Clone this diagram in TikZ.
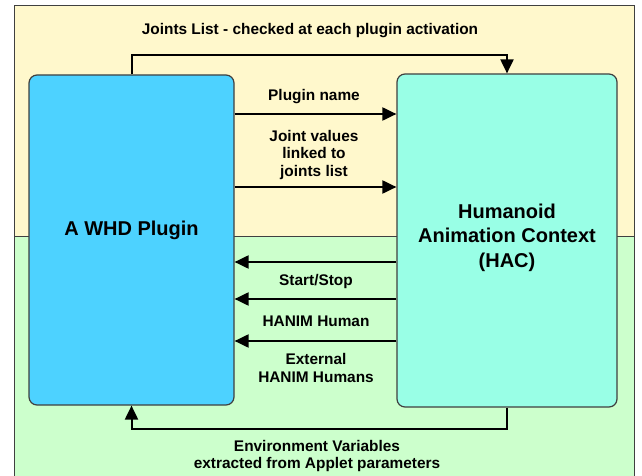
\documentclass[tikz,border=0pt]{standalone}
\usepackage{fontspec}
\setmainfont{Liberation Sans}
\usetikzlibrary{arrows.meta}
\definecolor{paleyellow}{HTML}{FFF8CC}
\definecolor{palegreen}{HTML}{CCFFCC}
\definecolor{plugblue}{HTML}{4DD2FF}
\definecolor{hacgreen}{HTML}{99FFE6}
\tikzset{
  block/.style={draw=black!75, line width=1.2pt, rounded corners=8pt, inner sep=0pt},
  title/.style={font=\bfseries\fontsize{20}{24.5}\selectfont, align=center},
  link/.style={line width=2pt, -{Triangle[length=14pt,width=13pt]}},
  lbl/.style={font=\bfseries\fontsize{15.4}{17.8}\selectfont, align=center}
}
\begin{document}
\begin{tikzpicture}[x=1pt,y=-1pt]
  \useasboundingbox (0,0) rectangle (642,476);
  % background
  \fill[paleyellow] (14,6) rectangle (634,236.5);
  \fill[palegreen] (14,236.5) rectangle (634,476);
  \draw[black!75, line width=1pt] (14,476) -- (14,6) -- (634,6) -- (634,476);
  \draw[black!75, line width=1pt] (14,236.5) -- (634,236.5);

  \node[block, fill=plugblue, minimum width=205pt, minimum height=330pt] (plugin) at (131.5,240) {};
  \node[block, fill=hacgreen, minimum width=220pt, minimum height=333pt] (hac) at (507,240.5) {};
  \node[title] (plugintext) at (131.5,230) {A WHD Plugin};
  \node[title] (hactext) at (507,237.5) {Humanoid\\Animation Context\\(HAC)};

  % plugin -> HAC
  \draw[link] (plugin.north) -- ++(0,-19) -| (hac.north);
  \node[lbl] (jointslist) at (310,31) {Joints List - checked at each plugin activation};
  \draw[link] (plugin.east |- 0,114) -- (hac.west |- 0,114);
  \node[lbl] (pluginname) at (314,97) {Plugin name};
  \draw[link] (plugin.east |- 0,187) -- (hac.west |- 0,187);
  \node[lbl] (jointvalues) at (314,155) {Joint values\\linked to\\joints list};

  % HAC -> plugin
  \draw[link] (hac.west |- 0,262) -- (plugin.east |- 0,262);
  \node[lbl] (startstop) at (316,282) {Start/Stop};
  \draw[link] (hac.west |- 0,299) -- (plugin.east |- 0,299);
  \node[lbl] (hanimhuman) at (316,321) {HANIM Human};
  \draw[link] (hac.west |- 0,341) -- (plugin.east |- 0,341);
  \node[lbl] (external) at (316,368) {External\\HANIM Humans};

  \draw[link] (hac.south) -- ++(0,21) -| (plugin.south);
  \node[lbl] (envvars) at (317,456) {Environment Variables\\extracted from Applet parameters};
\end{tikzpicture}
\end{document}
